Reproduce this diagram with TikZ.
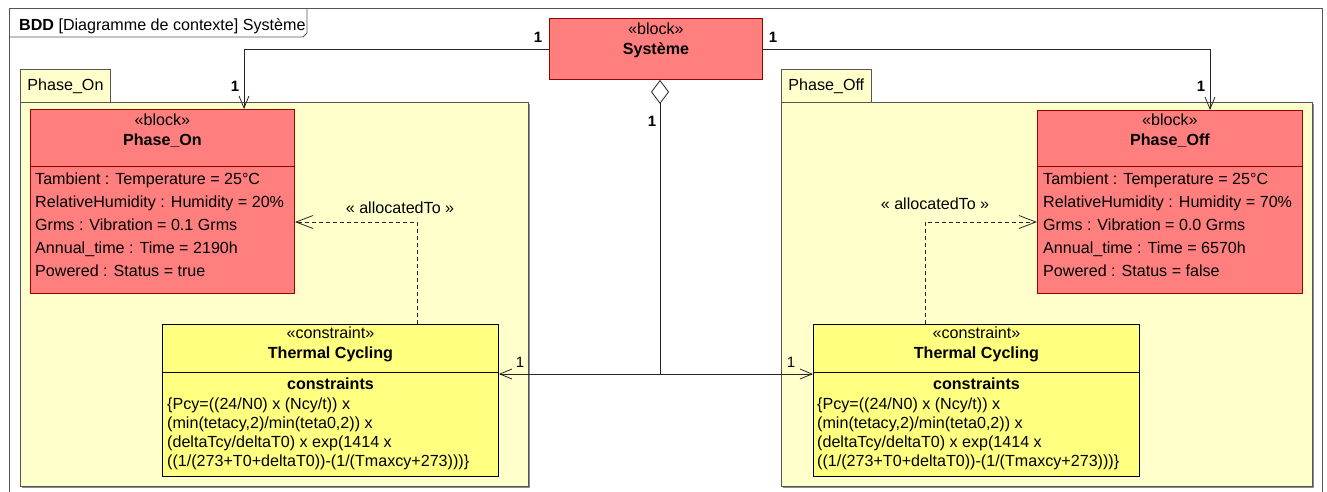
\documentclass[tikz,border=0pt]{standalone}
\usepackage{fontspec}
\setmainfont{Liberation Sans}
\usetikzlibrary{arrows.meta,calc,shadows}
\definecolor{blockred}{HTML}{FF7F7F}
\definecolor{blockedge}{HTML}{990000}
\definecolor{pkgfill}{HTML}{FFFFCC}
\definecolor{pkgedge}{HTML}{555555}
\definecolor{cstfill}{HTML}{FFFF80}
\tikzset{
  frame/.style={draw=pkgedge, line width=0.8pt},
  pkg/.style={draw=pkgedge, fill=pkgfill, line width=0.8pt, anchor=north west, inner sep=0pt,
              drop shadow={shadow xshift=2pt, shadow yshift=-2pt, fill=black!45, opacity=1}},
  pkgtab/.style={draw=pkgedge, fill=pkgfill, line width=0.8pt, anchor=north west, inner xsep=7pt, inner ysep=0pt, minimum height=33pt},
  blk/.style={draw=blockedge, fill=blockred, line width=0.9pt, anchor=north west, inner sep=0pt},
  cst/.style={draw=black, fill=cstfill, line width=0.9pt, anchor=north west, inner sep=0pt},
  head/.style={align=center, inner sep=0pt},
  attrs/.style={align=left, anchor=north west, inner sep=0pt, font=\fontsize{16.1}{23}\selectfont},
  eqn/.style={align=left, anchor=north west, inner sep=0pt, font=\fontsize{16.1}{19}\selectfont},
  mult/.style={inner sep=0pt, font=\fontsize{15}{18}\selectfont\bfseries},
  multlight/.style={inner sep=0pt, font=\fontsize{15}{18}\selectfont},
  assoc/.style={draw=black!85, line width=0.8pt, -{Straight Barb[length=12pt,width=10pt]}},
  agg/.style={draw=black!85, line width=0.8pt, {Diamond[fill=white,length=24pt,width=18pt]}-},
  alloc/.style={draw=black!85, line width=0.8pt, dash pattern=on 4pt off 3pt, -{Straight Barb[length=17pt,width=13pt]}}
}
\begin{document}
\begin{tikzpicture}[x=1pt, y=-1pt, font=\fontsize{16.1}{20}\selectfont]
  \useasboundingbox (0,0) rectangle (1327,491);
  \clip (0,0) rectangle (1327,491);

  % cadre du diagramme
  \draw[frame] (9,500) |- (1322,8) -- (1322,500);
  \draw[frame] (9,37) -- (303,37) -- (307,33) -- (307,8);
  \node[anchor=base west, inner sep=0pt] (titre) at (19,30) {\textbf{BDD} [Diagramme de contexte] Système};

  % packages
  \node[pkg, minimum width=508pt, minimum height=384pt] (pkgon) at (20,102) {};
  \node[pkgtab] (tabon) at (20,69) {Phase\_On};
  \node[pkg, minimum width=531pt, minimum height=384pt] (pkgoff) at (781,102) {};
  \node[pkgtab] (taboff) at (781,69) {Phase\_Off};

  % blocs
  \node[blk, minimum width=213pt, minimum height=61pt] (sys) at (549,18) {};
  \node[head] (syshead) at ($(sys.north)+(0,22)$) {«block»\\\textbf{Système}};

  \node[blk, minimum width=264pt, minimum height=184pt] (on) at (30,109) {};
  \draw[draw=blockedge, line width=0.9pt] ($(on.north west)+(0,57)$) -- ($(on.north east)+(0,57)$);
  \node[head] (onhead) at ($(on.north)+(0,22)$) {«block»\\\textbf{Phase\_On}};
  \node[attrs] (onattr) at ($(on.north west)+(5,64)$) {Tambient : Temperature = 25°C\\RelativeHumidity : Humidity = 20\%\\Grms : Vibration = 0.1 Grms\\Annual\_time : Time = 2190h\\Powered : Status = true};

  \node[blk, minimum width=265pt, minimum height=183pt] (off) at (1037,110) {};
  \draw[draw=blockedge, line width=0.9pt] ($(off.north west)+(0,56)$) -- ($(off.north east)+(0,56)$);
  \node[head] (offhead) at ($(off.north)+(0,21)$) {«block»\\\textbf{Phase\_Off}};
  \node[attrs] (offattr) at ($(off.north west)+(6,63)$) {Tambient : Temperature = 25°C\\RelativeHumidity : Humidity = 70\%\\Grms : Vibration = 0.0 Grms\\Annual\_time : Time = 6570h\\Powered : Status = false};

  % contraintes
  \node[cst, minimum width=336pt, minimum height=152pt] (tcon) at (162,324) {};
  \draw[line width=0.9pt] ($(tcon.north west)+(0,48)$) -- ($(tcon.north east)+(0,48)$);
  \node[head] (tconhead) at ($(tcon.north)+(0,20)$) {«constraint»\\\textbf{Thermal Cycling}};
  \node[head, font=\fontsize{16.1}{20}\selectfont\bfseries] (tconlbl) at ($(tcon.north)+(0,60)$) {constraints};
  \node[eqn] (tconeq) at ($(tcon.north west)+(5,74)$) {\{Pcy=((24/N0) x (Ncy/t)) x\\(min(tetacy,2)/min(teta0,2)) x\\(deltaTcy/deltaT0) x exp(1414 x\\((1/(273+T0+deltaT0))-(1/(Tmaxcy+273)))\}};

  \node[cst, minimum width=326pt, minimum height=152pt] (tcoff) at (813,324) {};
  \draw[line width=0.9pt] ($(tcoff.north west)+(0,48)$) -- ($(tcoff.north east)+(0,48)$);
  \node[head] (tcoffhead) at ($(tcoff.north)+(0,20)$) {«constraint»\\\textbf{Thermal Cycling}};
  \node[head, font=\fontsize{16.1}{20}\selectfont\bfseries] (tcofflbl) at ($(tcoff.north)+(0,60)$) {constraints};
  \node[eqn] (tcoffeq) at ($(tcoff.north west)+(4,74)$) {\{Pcy=((24/N0) x (Ncy/t)) x\\(min(tetacy,2)/min(teta0,2)) x\\(deltaTcy/deltaT0) x exp(1414 x\\((1/(273+T0+deltaT0))-(1/(Tmaxcy+273)))\}};

  % associations
  \coordinate (kon) at (244,0);
  \coordinate (koff) at (1210,0);
  \draw[assoc] (sys.west) -| (on.north -| kon);
  \draw[assoc] (sys.east) -| (off.north -| koff);

  \coordinate (hub) at (660,374);
  \draw[agg] (sys.south -| hub) -- (hub);
  \draw[assoc] (hub) -- (tcon.east |- hub);
  \draw[assoc] (hub) -- (tcoff.west |- hub);

  % allocations
  \coordinate (aon) at (417,222);
  \coordinate (aoff) at (925,222);
  \draw[alloc] (tcon.north -| aon) |- (on.east |- aon);
  \draw[alloc] (tcoff.north -| aoff) |- (off.west |- aoff);
  \node[inner sep=0pt] (alon) at (400,208) {« allocatedTo »};
  \node[inner sep=0pt] (aloff) at (935,204) {« allocatedTo »};

  % multiplicites
  \node[mult] (m1) at (538,37) {1};
  \node[mult] (m2) at (773,37) {1};
  \node[mult] (m3) at (235,86) {1};
  \node[mult] (m4) at (1201,86) {1};
  \node[mult] (m5) at (652,121) {1};
  \node[multlight] (m6) at (520,362) {1};
  \node[multlight] (m7) at (791,362) {1};
\end{tikzpicture}
\end{document}
